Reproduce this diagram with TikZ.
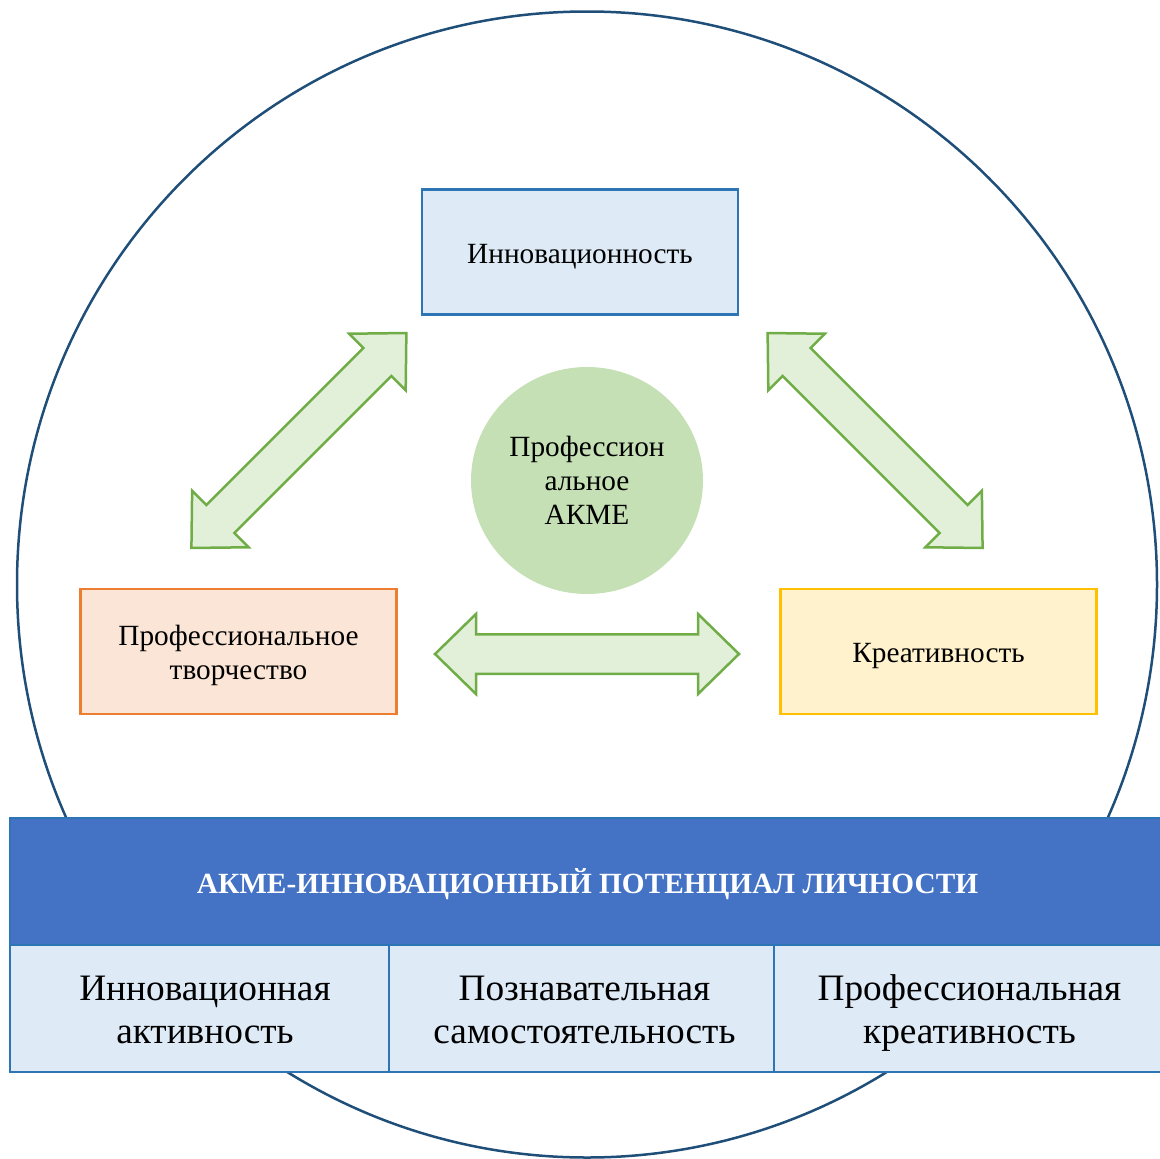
\documentclass[tikz,border=0pt]{standalone}
\usepackage{fontspec}
\setmainfont{Liberation Serif}
\usetikzlibrary{shapes.geometric}

\definecolor{ringblue}{RGB}{31,78,121}
\definecolor{topfill}{RGB}{222,235,247}
\definecolor{topline}{RGB}{46,117,182}
\definecolor{leftfill}{RGB}{251,229,214}
\definecolor{leftline}{RGB}{237,125,49}
\definecolor{rightfill}{RGB}{255,242,204}
\definecolor{rightline}{RGB}{255,192,0}
\definecolor{acmefill}{RGB}{197,224,180}
\definecolor{arrowfill}{RGB}{226,240,217}
\definecolor{arrowline}{RGB}{112,173,71}
\definecolor{headfill}{RGB}{68,114,196}

\begin{document}
\begin{tikzpicture}[x=1pt,y=-1pt,
  txt/.style={font=\fontsize{29.3}{34}\selectfont, align=center, inner sep=0pt},
  celltxt/.style={font=\fontsize{37.3}{43}\selectfont, align=center, inner sep=0pt},
  factor/.style={rectangle, line width=2.5pt, minimum width=316pt,
                 minimum height=125pt, inner sep=0pt},
  arrowbody/.style={draw=arrowline, fill=arrowfill, line width=2.5pt, line join=miter},
  dblarrow/.pic={
    \path[arrowbody] (-152,0) -- (-111,-40) -- (-111,-19.75) -- (111,-19.75)
      -- (111,-40) -- (152,0) -- (111,40) -- (111,19.75) -- (-111,19.75)
      -- (-111,40) -- cycle;
  },
  cell/.style={rectangle, draw=topline, fill=topfill, line width=2pt,
               minimum height=127pt, inner sep=0pt},
]
\useasboundingbox (0,0) rectangle (1160,1159);
\clip (0,0) rectangle (1160,1159);

% outer ring
\draw[ringblue, line width=2.5pt] (587,584.5) ellipse [x radius=570, y radius=573];

% three factors
\node[factor, draw=topline, fill=topfill,
      label={[txt, yshift=-4.5pt]center:{\strut Инновационность}}] (innov) at (580,252) {};
\node[factor, draw=leftline, fill=leftfill,
      label={[txt, yshift=-4.2pt]center:{\strut Профессиональное\\творчество\strut}}]
      (tvorch) at (238.5,651.5) {};
\node[factor, draw=rightline, fill=rightfill,
      label={[txt, yshift=-4.5pt]center:{\strut Креативность}}] (kreat) at (938.5,651.5) {};

% centre
\node[ellipse, fill=acmefill, minimum width=232pt, minimum height=227pt,
      inner sep=0pt, txt] (acme) at (587,480.5) {Профессион\\альное\\АКМЕ};

% two-way links between factors
\pic[rotate=45] at (298.9,440.5) {dblarrow};
\pic[rotate=-45] at (875.1,440.5) {dblarrow};
\pic at (587,654) {dblarrow};

% bottom panel
\node[rectangle, draw=topline, fill=headfill, line width=2pt,
      minimum width=1152pt, minimum height=127pt, inner sep=0pt,
      label={[text=white, inner sep=0pt, yshift=-4.4pt, xshift=1.5pt,
              font=\bfseries\fontsize{29.3}{34}\selectfont]center:{\strut АКМЕ-ИННОВАЦИОННЫЙ ПОТЕНЦИАЛ ЛИЧНОСТИ}}]
      (potential) at (586,881.5) {};
\node[cell, minimum width=379pt,
      label={[celltxt, yshift=-4.4pt, xshift=5.5pt]center:{\strut Инновационная\\активность\strut}}]
      (c1) at (199.5,1008.5) {};
\node[cell, minimum width=385pt,
      label={[celltxt, yshift=-4.4pt, xshift=3pt]center:{\strut Познавательная\\самостоятельность\strut}}]
      (c2) at (581.5,1008.5) {};
\node[cell, minimum width=388pt,
      label={[celltxt, yshift=-4.4pt, xshift=1.5pt]center:{\strut Профессиональная\\креативность\strut}}]
      (c3) at (968,1008.5) {};
\end{tikzpicture}
\end{document}
